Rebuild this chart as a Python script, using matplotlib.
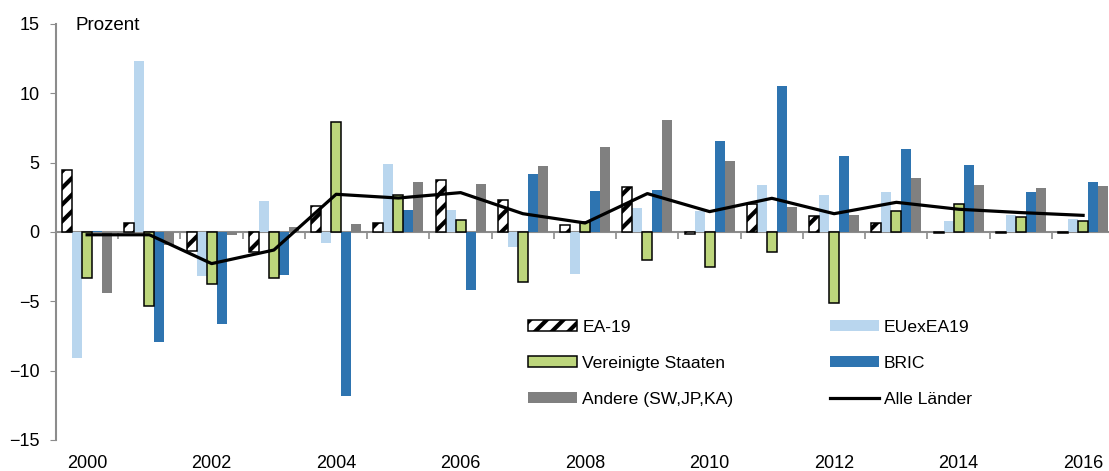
import matplotlib
matplotlib.use('Agg')
import matplotlib.pyplot as plt
import numpy as np

plt.rcParams['font.family'] = ['Liberation Sans', 'DejaVu Sans']
plt.rcParams['hatch.linewidth'] = 3.0

years = list(range(2000, 2017))
ea19 = [4.45, 0.65, -1.4, -1.45, 1.85, 0.65, 3.77, 2.28, 0.48, 3.25, -0.15, 2.05, 1.18, 0.67, -0.05, -0.1, -0.1]
eu_ex = [-9.06, 12.33, -3.2, 2.2, -0.77, 4.9, 1.6, -1.08, -3.05, 1.7, 1.55, 3.37, 2.69, 2.9, 0.77, 1.2, 0.96]
usa = [-3.32, -5.34, -3.73, -3.3, 7.9, 2.65, 0.89, -3.63, 0.72, -2.04, -2.52, -1.47, -5.12, 1.49, 2.04, 1.1, 0.77]
bric = [0.1, -7.93, -6.6, -3.1, -11.85, 1.56, -4.16, 4.18, 2.93, 3.0, 6.54, 10.5, 5.46, 6.0, 4.86, 2.9, 3.6]
andere = [-4.4, -0.95, -0.2, 0.36, 0.55, 3.63, 3.46, 4.78, 6.1, 8.1, 5.1, 1.78, 1.2, 3.87, 3.39, 3.2, 3.34]
alle = [-0.2, -0.2, -2.28, -1.3, 2.72, 2.45, 2.84, 1.32, 0.65, 2.77, 1.47, 2.43, 1.32, 2.14, 1.64, 1.4, 1.2]

grey = '#8c8c8c'
x = np.arange(len(years))
w = 0.16

fig = plt.figure(figsize=(11.09, 4.71), dpi=100)
ax = fig.add_axes([56 / 1109, 31 / 471, 1052 / 1109, 416 / 471])

b_ea = ax.bar(x - 2 * w, ea19, w, facecolor='white', edgecolor='black', hatch='//', linewidth=1.1, label='EA-19', zorder=3)
b_eu = ax.bar(x - w, eu_ex, w, color='#b9d6ee', label='EUexEA19', zorder=2)
b_us = ax.bar(x, usa, w, facecolor='#bdd67c', edgecolor='black', linewidth=1.1, label='Vereinigte Staaten', zorder=3)
b_br = ax.bar(x + w, bric, w, color='#2e74b0', label='BRIC', zorder=2)
b_an = ax.bar(x + 2 * w, andere, w, color='#808080', label='Andere (SW,JP,KA)', zorder=2)
l_all, = ax.plot(x, alle, color='black', linewidth=2.3, label='Alle Länder', zorder=4)

ax.set_xlim(-0.5, 16.4)
ax.set_ylim(-15, 15)
ax.set_yticks(np.arange(-15, 16, 5))
ax.tick_params(axis='y', length=4, color=grey, labelsize=13, pad=8)
ax.set_xticks(x[::2])
ax.set_xticklabels(years[::2])
ax.tick_params(axis='x', length=0, labelsize=13, pad=11)
for s in ['top', 'right', 'bottom']:
    ax.spines[s].set_visible(False)
ax.spines['left'].set_color(grey)
ax.spines['left'].set_linewidth(1.5)

# zero line with the category tick marks
sec = ax.secondary_xaxis(0, transform=ax.transData)
sec.set_xticks(np.arange(0.5, 16, 1))
sec.tick_params(length=5, color=grey, width=1.2, labelbottom=False)
sec.spines['bottom'].set_color(grey)
sec.spines['bottom'].set_linewidth(1.5)

ax.text(-0.19, 15, 'Prozent', fontsize=13.5, va='center_baseline', ha='left')

handles = [b_ea, b_us, b_an, b_eu, b_br, l_all]
ax.legend(handles, [h.get_label() for h in handles], ncol=2, frameon=False,
          loc='upper left', bbox_to_anchor=(528 / 1109, 1 - 320 / 471),
          bbox_transform=fig.transFigure, borderpad=0, borderaxespad=0,
          fontsize=12.6, handlelength=2.8, handleheight=0.6, handletextpad=0.3,
          columnspacing=5.5, labelspacing=1.2)

fig.savefig('out.png', dpi=100)
